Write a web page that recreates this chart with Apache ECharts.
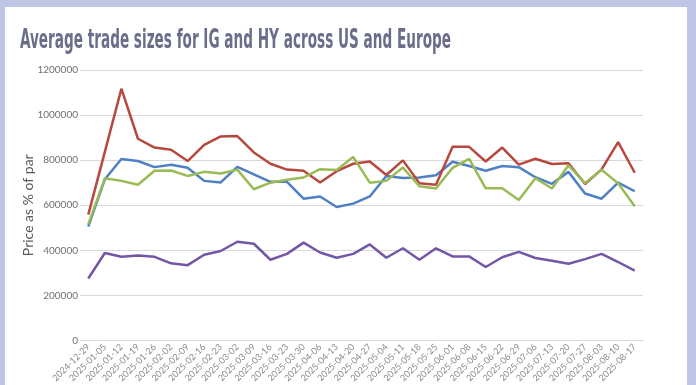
<!DOCTYPE html>
<html><head><meta charset="utf-8">
<script src="https://cdn.jsdelivr.net/npm/echarts@6/dist/echarts.min.js"></script>
<style>html,body{margin:0;padding:0;background:#bfc5e4;overflow:hidden}#c{width:696px;height:385px}</style>
</head><body><div id="c"></div>
<script>
const categories = ['2024-12-29','2025-01-05','2025-01-12','2025-01-19','2025-01-26','2025-02-02','2025-02-09','2025-02-16','2025-02-23','2025-03-02','2025-03-09','2025-03-16','2025-03-23','2025-03-30','2025-04-06','2025-04-13','2025-04-20','2025-04-27','2025-05-04','2025-05-11','2025-05-18','2025-05-25','2025-06-01','2025-06-08','2025-06-15','2025-06-22','2025-06-29','2025-07-06','2025-07-13','2025-07-20','2025-07-27','2025-08-03','2025-08-10','2025-08-17'];
const blueSeries = [505000,715000,805000,796000,769000,780000,766000,708000,701000,770000,737000,704000,704000,629000,639000,592000,607000,639000,730000,721000,723000,733000,793000,774000,753000,774000,769000,724000,695000,748000,652000,629000,700000,662000];
const redSeries = [558000,837000,1117000,895000,856000,846000,796000,868000,905000,907000,834000,784000,758000,753000,701000,751000,784000,794000,734000,799000,698000,691000,859000,859000,794000,856000,780000,806000,783000,786000,694000,759000,880000,744000];
const greenSeries = [515000,720000,708000,691000,753000,754000,730000,748000,741000,758000,671000,700000,713000,723000,760000,756000,814000,700000,708000,767000,684000,674000,766000,806000,675000,675000,623000,720000,674000,777000,698000,757000,697000,595000];
const purpleSeries = [275000,388000,371000,377000,371000,342000,334000,380000,397000,438000,429000,358000,384000,434000,390000,367000,384000,426000,367000,409000,358000,409000,373000,373000,326000,369000,393000,366000,354000,340000,361000,384000,348000,310000];
const yTicks = {min: 0, max: 1200000, interval: 200000};

const titleText = 'Average trade sizes for IG and HY across US and Europe';
const titleFamily = '"Liberation Sans Narrow", "DejaVu Sans Condensed", "Liberation Sans", sans-serif';
const ctx = document.createElement('canvas').getContext('2d');
ctx.font = 'bold 26px ' + titleFamily;
const tw = ctx.measureText(titleText).width;
const sx = 431 / tw;

const chart = echarts.init(document.getElementById('c'));
const lineStyle = (c) => ({type: 'line', symbol: 'none', lineStyle: {width: 2.5, color: c}, itemStyle: {color: c}});
chart.setOption({
  animation: false,
  backgroundColor: 'transparent',
  graphic: [
    {type: 'rect', z: -100, silent: true, shape: {x: 5, y: 7, width: 682, height: 400}, style: {fill: '#ffffff'}},
    {type: 'text', x: 20, y: 41, scaleX: sx, scaleY: 1, silent: true,
     style: {text: titleText, fontSize: 26, fontWeight: 'bold', fontFamily: titleFamily, fill: '#6b6e8b', verticalAlign: 'middle', align: 'left'}}
  ],
  grid: {left: 80, right: 53, top: 70, bottom: 35},
  xAxis: {
    type: 'category', data: categories, boundaryGap: true,
    axisLine: {lineStyle: {color: '#d9d9d9', width: 1}},
    axisTick: {show: false},
    axisLabel: {rotate: 45, interval: 0, fontSize: 9, fontFamily: 'Lato', color: '#8a8a8a', margin: 5}
  },
  yAxis: {
    type: 'value', min: yTicks.min, max: yTicks.max, interval: yTicks.interval,
    name: 'Price as % of par', nameLocation: 'middle', nameGap: 45, nameMoveOverlap: false,
    nameTextStyle: {fontSize: 14, fontFamily: 'Lato', color: '#595959'},
    axisLine: {show: false}, axisTick: {show: false},
    axisLabel: {fontSize: 10, fontFamily: 'Lato', color: '#6f6f6f', margin: 2, formatter: (v) => String(v)},
    splitLine: {lineStyle: {color: '#d9d9d9', width: 1}}
  },
  series: [
    Object.assign({name: 'Series A', data: blueSeries}, lineStyle('#4f7fc6')),
    Object.assign({name: 'Series B', data: redSeries}, lineStyle('#b8483e')),
    Object.assign({name: 'Series C', data: greenSeries}, lineStyle('#98bb55')),
    Object.assign({name: 'Series D', data: purpleSeries}, lineStyle('#7357a6'))
  ]
});
</script></body></html>
